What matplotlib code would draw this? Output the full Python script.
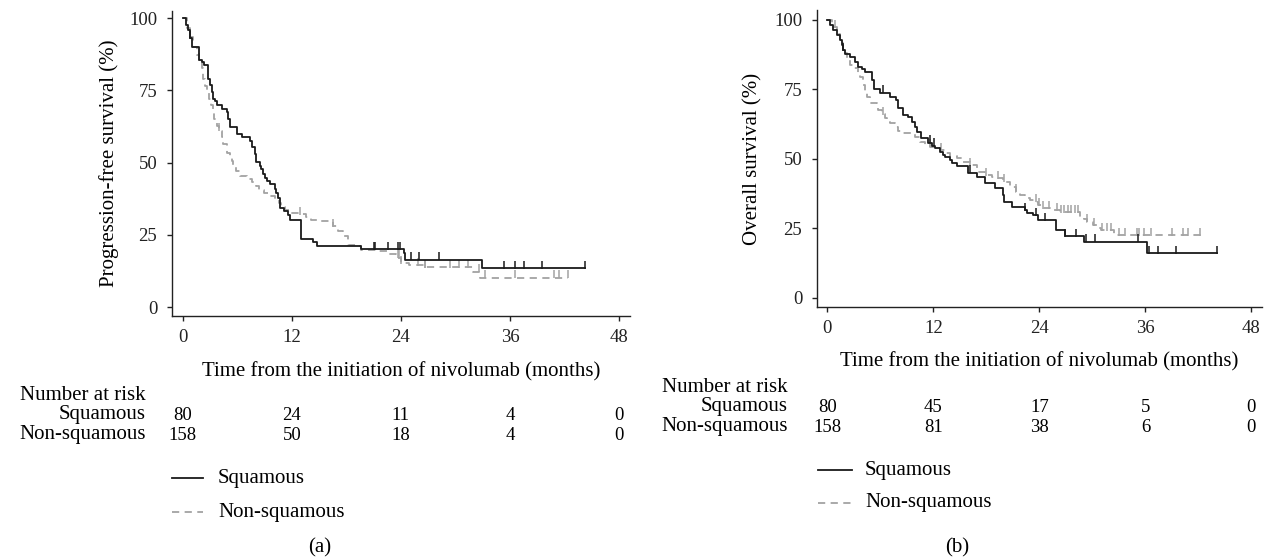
import matplotlib
matplotlib.use("Agg")
import matplotlib.pyplot as plt
import numpy as np
from matplotlib.lines import Line2D
from matplotlib.transforms import blended_transform_factory

plt.rcParams['font.family'] = ['Liberation Serif', 'DejaVu Serif']

# ---- data ----
# (a) progression-free survival
pfs_sq_t = [0, 0.37, 0.62, 0.8, 0.99, 1.83, 2.09, 2.38, 2.82, 3.0, 3.18, 3.37, 3.55, 3.8, 4.28,
            4.83, 4.94, 5.2, 6.0, 6.48, 7.39, 7.68, 7.94, 8.12, 8.49, 8.67, 8.85, 9.04, 9.29, 9.59,
            10.13, 10.32, 10.5, 10.76, 11.12, 11.6, 11.86, 13.06, 14.34, 14.78, 19.65, 24.3, 24.5, 32.9, 44.2]
pfs_sq_s = [100, 97.7, 95.9, 93.0, 90.1, 85.5, 84.9, 83.7, 79.1, 76.8, 74.4, 72.1, 71.5, 69.8, 68.6,
            67.5, 65.2, 62.3, 59.9, 58.8, 57.6, 55.3, 53.0, 50.1, 48.9, 47.7, 46.0, 44.8, 43.7, 42.5,
            40.8, 39.6, 37.9, 34.4, 33.2, 31.7, 30.3, 23.6, 22.4, 21.0, 20.1, 18.7, 16.4, 13.5, 13.5]
pfs_sq_cens = [0.8, 21.0, 21.2, 22.6, 23.7, 23.9, 25.1, 26.0, 28.2, 35.3, 36.5, 37.5, 39.5, 44.2]

pfs_ns_t = [0, 0.44, 0.8, 1.17, 1.54, 1.83, 2.09, 2.27, 2.45, 2.71, 2.93, 3.07, 3.29, 3.44, 3.73,
            4.02, 4.28, 4.46, 4.83, 5.2, 5.38, 5.56, 5.85, 6.29, 7.1, 7.68, 8.12, 8.42, 8.93, 9.4,
            10.13, 10.6, 10.87, 11.23, 11.71, 12.8, 13.6, 14.16, 14.9, 16.54, 17.1, 17.6, 18.2, 19.5, 19.65,
            21.5, 22.75, 23.5, 24.03, 24.9, 26.6, 31.9, 32.7, 42.4]
pfs_ns_s = [100, 96.5, 93.6, 90.1, 87.2, 85.5, 82.6, 79.1, 76.5, 74.4, 72.1, 69.8, 67.5, 65.2, 62.8,
            61.1, 58.8, 56.4, 53.5, 52.4, 50.6, 48.9, 47.2, 45.4, 44.3, 43.3, 41.9, 40.5, 39.6, 38.4,
            37.3, 36.1, 34.7, 33.6, 32.6, 32.1, 31.2, 30.3, 29.7, 28.0, 26.2, 24.5, 21.6, 21.0, 19.9,
            19.3, 18.5, 17.0, 15.2, 14.4, 13.7, 12.3, 10.2, 10.2]
pfs_ns_cens = [1.83, 4.02, 12.9, 16.54, 23.7, 23.85, 24.03, 25.86, 26.6, 26.7, 29.35, 30.4, 31.4,
               32.6, 33.3, 36.5, 40.8, 41.35, 42.4]

# (b) overall survival
os_sq_t = [0, 0.3, 0.68, 1.06, 1.43, 1.62, 1.8, 2.0, 2.57, 3.13, 3.51, 3.89, 4.27, 5.0, 5.29,
           5.96, 7.09, 7.77, 8.04, 8.6, 9.17, 9.55, 9.92, 10.1, 10.57, 11.4, 11.8, 12.19, 12.75, 13.13,
           13.3, 13.9, 14.08, 14.64, 15.96, 16.9, 17.8, 18.98, 19.85, 20.0, 20.87, 22.38, 22.57, 23.3, 23.89,
           25.9, 26.9, 29.0, 36.2, 44.1]
os_sq_s = [100, 98.2, 96.4, 94.6, 92.8, 91.0, 89.2, 87.8, 86.6, 85.0, 83.2, 82.2, 81.4, 78.4, 75.0,
           73.8, 72.4, 71.2, 68.2, 65.8, 64.9, 63.4, 61.3, 59.8, 57.4, 55.8, 54.7, 54.0, 52.6, 51.4,
           50.8, 49.6, 48.4, 47.4, 45.0, 43.6, 41.2, 39.4, 37.0, 34.6, 32.8, 31.6, 30.4, 29.8, 28.0,
           24.4, 22.2, 20.2, 16.0, 16.0]
os_sq_cens = [1.8, 6.3, 11.6, 12.1, 16.1, 22.4, 23.6, 24.6, 26.9, 28.2, 29.3, 30.3, 35.2, 36.4,
              37.4, 39.5, 44.1]

os_ns_t = [0, 0.5, 1.06, 1.43, 1.8, 2.2, 2.57, 2.95, 3.5, 3.7, 4.0, 4.27, 4.46, 4.83, 5.58, 5.77,
           6.15, 6.53, 6.72, 7.09, 7.66, 8.04, 8.42, 9.92, 10.49, 11.06, 11.6, 12.19, 12.75, 13.3, 13.9,
           14.64, 15.4, 16.15, 16.9, 17.85, 18.6, 19.17, 19.9, 20.68, 21.4, 21.8, 22.4, 22.9, 23.5, 23.89,
           24.45, 25.2, 26.3, 28.6, 29.0, 29.4, 30.1, 30.5, 31.0, 32.4, 42.4]
os_ns_s = [100, 97.5, 95.0, 91.6, 88.0, 85.6, 83.8, 82.6, 80.2, 79.4, 76.6, 74.2, 72.4, 70.0, 69.4, 67.6,
           66.1, 64.6, 63.4, 62.8, 61.6, 60.0, 59.2, 58.0, 56.2, 55.0, 54.4, 53.8, 53.2, 52.0, 51.0,
           50.2, 49.0, 47.8, 45.4, 44.2, 43.6, 43.0, 41.8, 40.0, 38.2, 37.0, 35.8, 35.2, 34.6, 33.4,
           32.2, 31.6, 30.8, 29.2, 28.5, 27.4, 26.1, 25.0, 24.4, 22.6, 22.6]
os_ns_cens = [0.87, 6.35, 11.6, 12.9, 16.2, 18.0, 19.3, 20.0, 21.4, 23.6, 24.0, 24.45, 25.1, 26.0,
              26.4, 26.8, 27.2, 27.6, 28.0, 28.4, 29.4, 30.2, 31.1, 31.7, 32.1, 33.0, 33.7, 35.0,
              35.3, 35.8, 36.6, 39.0, 40.3, 40.8, 42.2]

risk_times = [0, 12, 24, 36, 48]
pfs_risk_sq = [80, 24, 11, 4, 0]
pfs_risk_ns = [158, 50, 18, 4, 0]
os_risk_sq = [80, 45, 17, 5, 0]
os_risk_ns = [158, 81, 38, 6, 0]
groups = ['Squamous', 'Non-squamous']

BLACK = '#1a1a1a'
GREY = '#a3a3a3'
DASH = (0, (4, 3))
FS_NUM = 13.5   # tick labels and numbers
FS_TXT = 15     # words
W, H = 1267, 560

fig = plt.figure(figsize=(W / 100, H / 100), dpi=100)


def px(x, y):
    return x / W, 1 - y / H


def km(ax, t, s, cens, color, dashed):
    ax.plot(t, s, drawstyle='steps-post', color=color, lw=1.3, ls=DASH if dashed else '-')
    idx = np.searchsorted(t, cens, side='right') - 1
    ax.plot(cens, np.array(s)[idx] + 1.2, ls='none', marker='|', ms=6, mew=1.1, color=color)


def setup(ax, ylim, ylabel, ylab_xy):
    ax.set_xlim(-1.17, 49.2)
    ax.set_ylim(*ylim)
    ax.set_xticks(risk_times)
    ax.set_yticks([0, 25, 50, 75, 100])
    for sp in ['top', 'right']:
        ax.spines[sp].set_visible(False)
    for sp in ['left', 'bottom']:
        ax.spines[sp].set_linewidth(1.0)
        ax.spines[sp].set_color('#222222')
    ax.tick_params(direction='out', length=3.6, width=1.0, labelsize=FS_NUM, colors='#222222')
    ax.tick_params(axis='y', pad=7)
    ax.tick_params(axis='x', pad=6)
    fig.text(*px(*ylab_xy), ylabel, rotation=90, ha='center', va='center', fontsize=FS_TXT)


def risk_table(ax, sq, ns, name_x, rows_y):
    tr = blended_transform_factory(ax.transData, fig.transFigure)
    fig.text(*px(name_x, rows_y[0]), 'Number at risk', ha='right', va='center', fontsize=FS_TXT)
    fig.text(*px(name_x, rows_y[1]), groups[0], ha='right', va='center', fontsize=FS_TXT)
    fig.text(*px(name_x, rows_y[2]), groups[1], ha='right', va='center', fontsize=FS_TXT)
    for t, a, b in zip(risk_times, sq, ns):
        ax.text(t, 1 - rows_y[1] / H, str(a), transform=tr, ha='center', va='center', fontsize=FS_NUM)
        ax.text(t, 1 - rows_y[2] / H, str(b), transform=tr, ha='center', va='center', fontsize=FS_NUM)


def key(x0, x1, xt, ys):
    styles = [(BLACK, '-'), (GREY, DASH)]
    for (c, ls), y, name in zip(styles, ys, groups):
        fig.add_artist(Line2D([x0 / W, x1 / W], [1 - y / H, 1 - y / H], color=c, ls=ls, lw=1.3))
        fig.text(*px(xt, y), name, ha='left', va='center', fontsize=FS_TXT)


# ---- (a) ----
ax1 = fig.add_axes([172 / W, 1 - 316 / H, (630 - 172) / W, (316 - 11) / H])
setup(ax1, (-3.1, 102.5), 'Progression-free survival (%)', (109, 163))
km(ax1, pfs_ns_t, pfs_ns_s, pfs_ns_cens, GREY, True)
km(ax1, pfs_sq_t, pfs_sq_s, pfs_sq_cens, BLACK, False)
fig.text(*px(401, 372), 'Time from the initiation of nivolumab (months)', ha='center', va='center',
         fontsize=FS_TXT)
risk_table(ax1, pfs_risk_sq, pfs_risk_ns, 146, (395, 415, 435))
key(172, 203, 218, (478, 512))
fig.text(*px(320, 548), '(a)', ha='center', va='center', fontsize=FS_TXT)

# ---- (b) ----
ax2 = fig.add_axes([817 / W, 1 - 307 / H, (1262 - 817) / W, (307 - 10) / H])
setup(ax2, (-3.35, 103.6), 'Overall survival (%)', (753, 159))
km(ax2, os_ns_t, os_ns_s, os_ns_cens, GREY, True)
km(ax2, os_sq_t, os_sq_s, os_sq_cens, BLACK, False)
fig.text(*px(1039, 362), 'Time from the initiation of nivolumab (months)', ha='center', va='center',
         fontsize=FS_TXT)
risk_table(ax2, os_risk_sq, os_risk_ns, 788, (387, 407, 427))
key(818, 852, 865, (470, 503))
fig.text(*px(957, 548), '(b)', ha='center', va='center', fontsize=FS_TXT)

fig.savefig('out.png', dpi=100)
